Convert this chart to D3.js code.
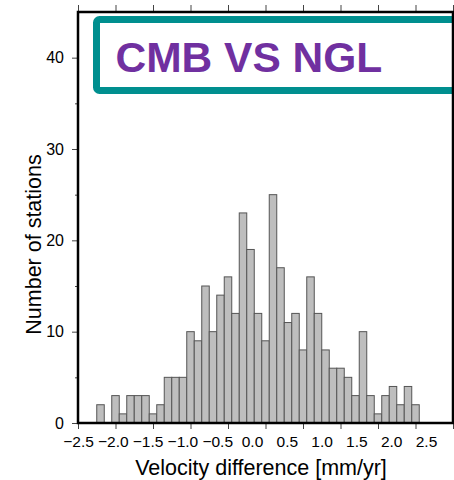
<!DOCTYPE html>
<html>
<head>
<meta charset="utf-8">
<script src="https://cdn.jsdelivr.net/npm/d3@7"></script>
<style>
  html, body { margin: 0; padding: 0; background: #fff; }
  svg { display: block; font-family: "Liberation Sans", Arial, Helvetica, sans-serif; }
</style>
</head>
<body>
<svg id="chart" width="454" height="480"></svg>
<script>
// ---- data ----
const binCenters = [-2.2, -2.1, -2.0, -1.9, -1.8, -1.7, -1.6, -1.5, -1.4, -1.3, -1.2,
  -1.1, -1.0, -0.9, -0.8, -0.7, -0.6, -0.5, -0.4, -0.3, -0.2, -0.1, 0.0, 0.1, 0.2,
  0.3, 0.4, 0.5, 0.6, 0.7, 0.8, 0.9, 1.0, 1.1, 1.2, 1.3, 1.4, 1.5, 1.6, 1.7, 1.8, 1.9, 2.0];
const counts = [2, 0, 3, 1, 3, 3, 3, 1, 2, 5, 5,
  5, 10, 9, 15, 10, 14, 16, 12, 23, 19, 12, 9, 25, 17,
  11, 12, 8, 16, 12, 8, 6, 6, 5, 3, 10, 3, 1, 3, 4, 2, 4, 2];
const binWidth = 0.1;
const xTickValues = [-2.5, -2.0, -1.5, -1.0, -0.5, 0.0, 0.5, 1.0, 1.5, 2.0, 2.5];
const xTickLabels = [-2.5, -2.0, -1.5, -1.0, -0.5, 0.0, 0.5, 1.0, 1.5, 2.0, 2.5];
const yTickValues = [0, 10, 20, 30, 40];
const yMinorTicks = [5, 15, 25, 35];
const titleText = "CMB VS NGL";
const xTitle = "Velocity difference [mm/yr]";
const yTitle = "Number of stations";

// ---- layout ----
const L = 78, R = 453, T = 12, B = 423;
const svg = d3.select("#chart");

const x = d3.scaleLinear().domain([-2.5, 2.5]).range([L, R]);
const xLab = d3.scaleLinear().domain([-2.5, 2.5]).range([L, 426]);
const y = d3.scaleLinear().domain([0, 45]).range([B, T]);

// bars
svg.append("g").selectAll("rect")
  .data(binCenters.map((c, i) => ({ c, n: counts[i] })).filter(d => d.n > 0))
  .join("rect")
  .attr("x", d => x(d.c - binWidth / 2))
  .attr("width", d => x(d.c + binWidth / 2) - x(d.c - binWidth / 2))
  .attr("y", d => y(d.n))
  .attr("height", d => y(0) - y(d.n))
  .attr("fill", "#bebebe")
  .attr("stroke", "#555")
  .attr("stroke-width", 1);

// title box
const boxG = svg.append("g");
boxG.append("rect")
  .attr("x", 96.5).attr("y", 19.5)
  .attr("width", 400).attr("height", 71)
  .attr("rx", 3).attr("ry", 3)
  .attr("fill", "#fff")
  .attr("stroke", "#008f8f")
  .attr("stroke-width", 7);
boxG.append("text")
  .attr("x", 115.5).attr("y", 71.5)
  .attr("font-size", 42.5)
  .attr("font-weight", "bold")
  .attr("fill", "#7030a0")
  .text(titleText);

// x axis ticks (bottom and top)
const xAxisB = d3.axisBottom(x).tickValues(xTickValues).tickSize(6).tickFormat("");
const gxb = svg.append("g").attr("transform", `translate(0,${B})`).call(xAxisB);
gxb.select(".domain").remove();
gxb.selectAll(".tick line").attr("stroke", "#444").attr("stroke-width", 1);

const xAxisT = d3.axisTop(x).tickValues(xTickValues).tickSize(7).tickFormat("");
const gxt = svg.append("g").attr("transform", `translate(0,${T})`).call(xAxisT);
gxt.select(".domain").remove();
gxt.selectAll(".tick line").attr("stroke", "#444").attr("stroke-width", 1);

// x tick labels
const xLabAxis = d3.axisBottom(xLab).tickValues(xTickLabels).tickSize(0).tickPadding(0)
  .tickFormat(d3.format(".1f"));
const gxl = svg.append("g").attr("transform", `translate(0,${B + 13})`).call(xLabAxis);
gxl.select(".domain").remove();
gxl.selectAll("text").attr("font-size", 15.5).attr("fill", "#000")
  .attr("font-family", "'Liberation Sans', Arial, sans-serif");

// y axis
const yAxis = d3.axisLeft(y).tickValues(yTickValues).tickSize(6).tickPadding(8);
const gy = svg.append("g").attr("transform", `translate(${L},0)`).call(yAxis);
gy.select(".domain").remove();
gy.selectAll(".tick line").attr("stroke", "#444");
gy.selectAll("text").attr("font-size", 16).attr("fill", "#000")
  .attr("font-family", "'Liberation Sans', Arial, sans-serif");

const yMinor = d3.axisLeft(y).tickValues(yMinorTicks).tickSize(3).tickFormat("");
const gym = svg.append("g").attr("transform", `translate(${L},0)`).call(yMinor);
gym.select(".domain").remove();
gym.selectAll(".tick line").attr("stroke", "#444");

// frame
svg.append("rect")
  .attr("x", L).attr("y", T)
  .attr("width", R - L).attr("height", B - T)
  .attr("fill", "none")
  .attr("stroke", "#000")
  .attr("stroke-width", 2.5);

// axis titles
svg.append("text")
  .attr("x", 261).attr("y", 475)
  .attr("text-anchor", "middle")
  .attr("font-size", 21.5)
  .attr("fill", "#000")
  .text(xTitle);

svg.append("text")
  .attr("transform", "translate(41,244.5) rotate(-90)")
  .attr("text-anchor", "middle")
  .attr("font-size", 21.5)
  .attr("fill", "#000")
  .text(yTitle);
</script>
</body>
</html>
